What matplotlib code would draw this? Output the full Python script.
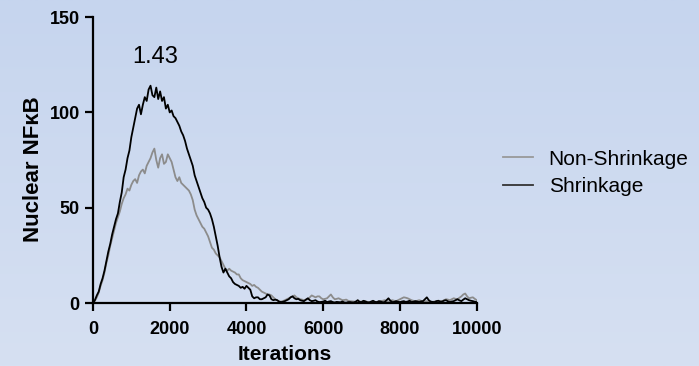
import matplotlib
matplotlib.use("Agg")
import matplotlib.pyplot as plt
import numpy as np

plt.rcParams['font.family'] = ['Liberation Sans', 'DejaVu Sans']

# Datos (cada 50 iteraciones)
iteraciones = list(range(0, 10001, 50))

shrinkage = [
    0, 1.5, 4, 6, 10, 13, 17, 22, 27, 31,
    36, 40, 44, 47, 53, 58, 66, 70, 76, 80,
    87, 92, 97, 102, 104, 99, 104, 108, 106, 112,
    114, 109, 108, 113, 107, 111, 106, 108, 102, 104,
    100, 101, 98, 97, 95, 93, 90, 88, 85, 81,
    78, 75, 72, 67, 64, 61, 58, 55, 53, 50,
    49, 47, 44, 40, 35, 30, 24, 19, 16, 18,
    16, 14, 13, 11, 10, 9.5, 9, 8, 8.5, 7.5,
    9, 8, 7, 3.5, 2.5, 3, 3, 2, 2, 2.5,
    3, 4.5, 4, 2, 1.5, 1.8, 1.5, 0.8, 0.5, 0.7,
    1, 1.5, 2, 3, 3.5, 2.5, 2, 2.2, 1.5, 1.2,
    1, 1.8, 2.5, 1.5, 1, 1.2, 1.5, 0.8, 0.5, 0.6,
    0.8, 1.2, 0.5, 0.8, 1, 0.5, 0.3, 0.6, 0.5, 0.4,
    0.8, 0.3, 0.2, 0.5, 0.5, 0.3, 0.3, 0.8, 1.5, 0.6,
    0.5, 1.2, 0.8, 0.4, 0.3, 0.8, 1.2, 0.6, 0.5, 1,
    0.8, 0.4, 0.5, 1.5, 2.5, 1.2, 0.5, 0.6, 1, 0.7,
    0.5, 0.8, 1, 0.6, 0.8, 1.2, 0.5, 0.7, 1, 0.8,
    0.5, 0.9, 1, 2, 3, 1.5, 0.8, 0.6, 0.5, 1,
    1.2, 0.7, 0.8, 1.3, 1.5, 0.9, 0.5, 0.8, 1, 1.5,
    2, 1.4, 1, 1.8, 2.5, 2, 1.5, 1.2, 1, 0.7,
    0.5,
]

non_shrinkage = [
    0, 1.2, 3, 5.5, 9, 12, 16, 21, 25, 30,
    34, 38, 42, 45, 48, 52, 55, 57, 60, 59,
    62, 64, 65, 63, 67, 69, 70, 68, 72, 74,
    76, 79, 81, 75, 71, 76, 78, 73, 74, 78,
    76, 74, 70, 66, 64, 66, 63, 62, 61, 60,
    59, 57, 54, 49, 46, 44, 42, 40, 39, 37,
    35, 32, 29, 28, 26, 25, 24, 22, 20, 18,
    17, 18, 17, 16.5, 16, 15, 15, 13, 12, 11.5,
    11, 10.5, 10, 9, 9.5, 8.5, 8, 7, 6, 5.5,
    5, 4.5, 4.5, 4, 3, 2, 1.5, 0.7, 0.8, 1,
    1.5, 2, 2.5, 3, 3.5, 4, 3, 2.5, 2, 1.8,
    1.5, 1.8, 2, 3, 4, 3.5, 3, 3.5, 3.5, 2.5,
    2, 2.2, 2.5, 3.5, 4.5, 3, 2, 2.2, 2.5, 2,
    1.5, 1.6, 1.8, 1.2, 1, 0.9, 0.8, 0.6, 0.5, 0.7,
    0.8, 1, 1, 0.6, 0.5, 0.6, 0.8, 0.6, 0.5, 0.8,
    1, 1.2, 1.5, 1, 0.8, 1.2, 1.5, 1.2, 1, 1.5,
    2, 2.5, 3, 2.8, 2.5, 2, 1.5, 1.2, 1, 1.2,
    1.5, 1.2, 0.8, 0.9, 1, 0.7, 0.5, 0.6, 0.8, 1,
    1.2, 1.1, 1, 1.5, 2, 1.8, 1.5, 2, 2.5, 2.2,
    2, 2.8, 3.5, 4.5, 5, 3.5, 2.5, 2.8, 3, 2.2,
    1.5,
]

y_ticks = [0, 50, 100, 150]
x_ticks = [0, 2000, 4000, 6000, 8000, 10000]
titulo = "1.43"

fig = plt.figure(figsize=(6.99, 3.66), dpi=100)

# fondo degradado
bg = fig.add_axes([0, 0, 1, 1], zorder=-1)
arriba = np.array([198, 213, 238]) / 255
abajo = np.array([214, 224, 242]) / 255
t = np.linspace(0, 1, 256)[:, None]
grad = arriba[None, :] * (1 - t) + abajo[None, :] * t
bg.imshow(grad[:, None, :], aspect='auto', extent=[0, 1, 0, 1])
bg.axis('off')

ax = fig.add_axes([0.133, 0.172, 0.549, 0.7814])
ax.set_facecolor('none')

ax.plot(iteraciones, non_shrinkage, color='#8c8c8c', lw=1.3, label='Non-Shrinkage')
ax.plot(iteraciones, shrinkage, color='black', lw=1.3, label='Shrinkage')

ax.set_xlim(0, 10000)
ax.set_ylim(0, 150)
ax.set_xticks(x_ticks)
ax.set_yticks(y_ticks)
for s in ['top', 'right']:
    ax.spines[s].set_visible(False)
for s in ['left', 'bottom']:
    ax.spines[s].set_linewidth(1.6)
ax.tick_params(width=1.6, length=6, labelsize=13)
ax.tick_params(axis='x', pad=7)
for lab in ax.get_xticklabels() + ax.get_yticklabels():
    lab.set_fontweight('bold')

ax.set_xlabel('Iterations', fontsize=15, fontweight='bold', labelpad=5)
ax.set_ylabel('Nuclear NFκB', fontsize=16, fontweight='bold')
ax.yaxis.set_label_coords(-0.128, 0.468)
ax.text(1615, 129, titulo, fontsize=17, ha='center', va='center')

leg = ax.legend(loc='center left', bbox_to_anchor=(1.019, 0.455), frameon=False,
                fontsize=15, handlelength=1.45, handletextpad=0.75, labelspacing=0.4)
leg.get_lines()[0].set_color('#999999')
leg.get_lines()[1].set_color('#333333')

fig.savefig('out.png', dpi=100)
